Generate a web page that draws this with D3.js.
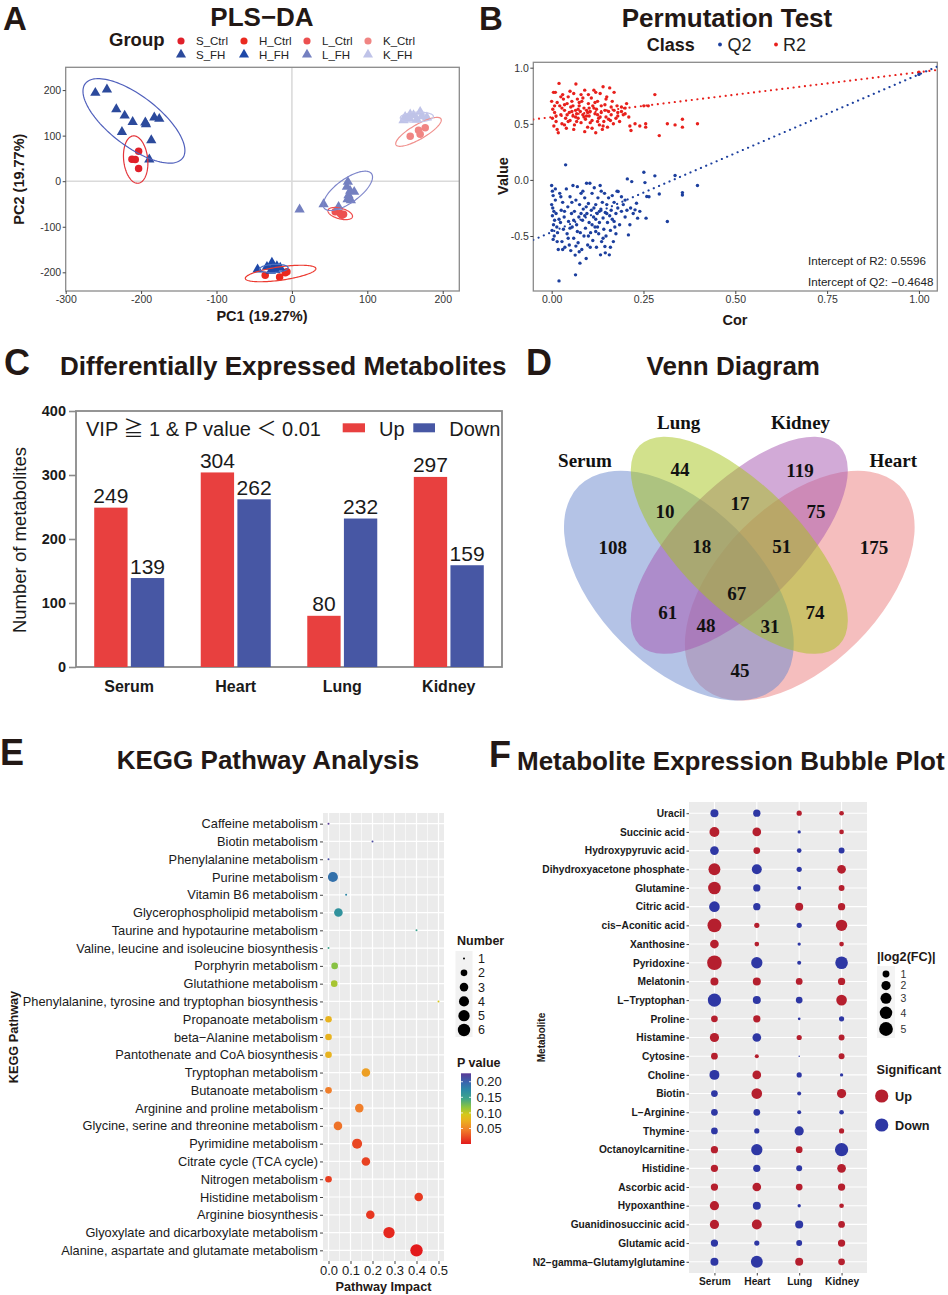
<!DOCTYPE html>
<html>
<head>
<meta charset="utf-8">
<script src="https://cdn.jsdelivr.net/npm/d3@7"></script>
<style>
  body { margin: 0; background: #fff; }
  svg { display: block; }
</style>
</head>
<body>
<svg width="948" height="1295"></svg>
<script>
// ---------- A: PLS-DA scores ----------
const plsXTicks = [-300, -200, -100, 0, 100, 200];
const plsYTicks = [-200, -100, 0, 100, 200];
const sCtrl = [[-203.3, 65.8], [-212.1, 48.3], [-207.7, 47.5], [-203.3, 27.8]];
const sFH = [[-260.7, 193.9], [-245.3, 201.2], [-232.9, 158], [-221.8, 144], [-211.2, 130], [-225.4, 108],
  [-194.4, 128.7], [-193.5, 125], [-182.5, 139.7], [-175.9, 136.8], [-186.5, 90], [-189.1, 47.5]];
const hCtrl = [[-35.4, -206.3], [-16.3, -210], [-8.8, -201], [-6.6, -199]];
const hFH = [[-45.5, -193.9], [-33.1, -188], [-26.5, -179], [-24.3, -188], [-19.9, -186.5], [-15.5, -190],
  [-27.8, -196.8], [-22, -195]];
const lCtrl = [[57.4, -67.3], [64.1, -71], [66.3, -74.6], [68.5, -72.4]];
const lFH = [[74.2, -1.5], [72.9, -12.4], [77.3, -21.2], [82.6, -23.4], [75.1, -30.7], [73.8, -39.5],
  [78.2, -41.7], [42, -50.5], [61.9, -56.3], [10.2, -62.2]];
const kCtrl = [[156.9, 98.8], [167.9, 112], [170.1, 103], [176.8, 117.2]];
const kFH = [[150.2, 141.2], [156, 137.5], [161.3, 144.8], [170.1, 152.2], [172.3, 142.6], [179, 139.7],
  [165.7, 135.3], [156.9, 146.3], [148, 133.9]];
// confidence ellipses: centre x, y, then two conjugate half axes (data units)
const sCtrlEll = [-207.2, 47.5, -2.5, 52, 16, 0];
const sFHEll = [-209.5, 132.4, 64.5, -81.9, 20.2, 43.5];
const hCtrlEll = [-15, -202.6, 46.8, 10.9, -1.2, 14.5];
const hFHEll = [-24, -191.5, 19, 1.5, 0, 9];
const lCtrlEll = [64.1, -71, 16.2, -7.2, -1.8, -11.3];
const lFHEll = [74.2, -21.2, 31.4, 37.7, 9.2, -21];
const kCtrlEll = [167.9, 108.3, 29.8, 28.5, 4.9, -13.9];
const kFHEll = [165.7, 140.5, 22, 1.5, 0, 11];

// ---------- B: permutation test ----------
const permXTicks = [0, 0.25, 0.5, 0.75, 1];
const permYTicks = [-0.5, 0, 0.5, 1];
const r2Intercept = 0.5596, r2Final = 0.96;
const q2Intercept = -0.4648, q2Final = 0.94;
const r2Points = [
  [0.000,0.70],[0.005,0.78],[0.010,0.78],[0.003,0.63],[0.008,0.60],[0.002,0.55],[0.012,0.52],[0.006,0.48],[0.015,0.45],[0.018,0.42],
  [0.020,0.86],[0.022,0.66],[0.025,0.58],[0.028,0.50],[0.030,0.76],[0.032,0.72],[0.035,0.62],[0.038,0.55],[0.040,0.46],[0.042,0.68],
  [0.045,0.74],[0.048,0.60],[0.050,0.53],[0.052,0.65],[0.055,0.70],[0.058,0.57],[0.060,0.77],[0.062,0.49],[0.065,0.62],[0.066,0.855],
  [0.068,0.59],[0.070,0.72],[0.072,0.55],[0.075,0.66],[0.078,0.61],[0.080,0.51],[0.082,0.70],[0.085,0.58],[0.088,0.64],[0.090,0.80],
  [0.092,0.54],[0.095,0.62],[0.098,0.47],[0.100,0.68],[0.102,0.57],[0.105,0.61],[0.108,0.73],[0.110,0.53],[0.112,0.66],[0.115,0.80],
  [0.118,0.59],[0.120,0.42],[0.122,0.63],[0.125,0.70],[0.128,0.55],[0.130,0.49],[0.132,0.77],[0.135,0.60],[0.138,0.45],[0.140,0.83],
  [0.142,0.52],[0.145,0.67],[0.148,0.56],[0.150,0.74],[0.152,0.47],[0.155,0.61],[0.158,0.82],[0.160,0.53],[0.162,0.58],[0.165,0.70],
  [0.168,0.50],[0.170,0.62],[0.175,0.55],[0.178,0.66],[0.180,0.60],[0.185,0.52],[0.190,0.61],[0.195,0.58],[0.200,0.64],[0.204,0.68],
  [0.210,0.56],[0.213,0.48],[0.216,0.44],[0.227,0.50],[0.240,0.48],[0.251,0.66],[0.256,0.50],[0.256,0.47],[0.263,0.66],[0.281,0.76],
  [0.293,0.395],[0.315,0.50],[0.336,0.49],[0.356,0.54],[0.356,0.47],[0.397,0.50],
  [0.015,0.69],[0.025,0.74],[0.035,0.67],[0.045,0.52],[0.055,0.61],[0.065,0.56],[0.075,0.69],[0.085,0.73],[0.095,0.57],[0.105,0.51],
  [0.115,0.64],[0.125,0.58],[0.135,0.66],[0.145,0.62],[0.155,0.54],[0.012,0.57],[0.028,0.64],[0.042,0.58],[0.058,0.66],[0.072,0.63],
  [0.088,0.56],[0.102,0.64],[0.118,0.69],[0.132,0.56],[0.148,0.72],[0.162,0.65],[0.060,0.45],[0.090,0.43],[0.110,0.46],[0.140,0.48],
  [0.050,0.79],[0.080,0.76],[0.100,0.76],[0.120,0.78],[0.170,0.78],[0.008,0.66],[0.035,0.49],[0.068,0.52],[0.098,0.60],[0.125,0.52],
  [0.180,0.57],[0.190,0.65],[0.200,0.59],[1.000,0.96]
];
const q2Points = [
  [0.000,-0.05],[0.002,-0.10],[0.004,-0.14],[0.000,-0.22],[0.003,-0.25],[0.006,-0.28],[0.002,-0.32],[0.008,-0.36],[0.005,-0.40],[0.001,-0.45],
  [0.007,-0.50],[0.004,-0.53],[0.010,-0.18],[0.012,-0.30],[0.014,-0.42],[0.016,-0.47],[0.018,-0.62],[0.020,-0.90],[0.022,-0.12],[0.024,-0.38],
  [0.026,-0.27],[0.028,-0.55],[0.030,-0.20],[0.032,-0.44],[0.034,-0.33],[0.036,-0.60],[0.038,0.134],[0.040,-0.08],[0.042,-0.48],[0.044,-0.24],
  [0.046,-0.37],[0.048,-0.58],[0.050,-0.15],[0.052,-0.63],[0.054,-0.30],[0.056,-0.42],[0.058,-0.05],[0.060,-0.52],[0.062,-0.28],[0.064,-0.67],
  [0.065,-0.846],[0.066,-0.18],[0.068,-0.40],[0.070,-0.06],[0.072,-0.56],[0.074,-0.33],[0.076,-0.22],[0.077,-0.742],[0.078,-0.47],[0.080,-0.12],
  [0.082,-0.62],[0.084,-0.36],[0.086,-0.26],[0.088,-0.50],[0.090,-0.16],[0.092,-0.43],[0.094,-0.70],[0.095,-0.03],[0.096,-0.30],[0.098,-0.58],
  [0.100,-0.21],[0.102,-0.38],[0.104,-0.03],[0.106,-0.47],[0.108,-0.27],[0.110,-0.12],[0.112,-0.54],[0.114,-0.33],[0.116,-0.07],[0.118,-0.42],
  [0.120,-0.22],[0.122,-0.60],[0.124,-0.30],[0.126,-0.16],[0.128,-0.48],[0.130,-0.38],[0.132,-0.05],[0.133,-0.668],[0.134,-0.26],[0.136,-0.55],
  [0.138,-0.20],[0.140,-0.34],[0.142,-0.44],[0.144,-0.12],[0.145,-0.593],[0.146,-0.29],[0.148,-0.50],[0.150,-0.22],[0.152,-0.38],[0.155,-0.16],
  [0.157,-0.668],[0.158,-0.32],[0.160,-0.45],[0.162,-0.27],[0.165,-0.35],[0.168,-0.55],[0.170,-0.20],[0.172,-0.42],[0.175,-0.30],[0.178,-0.10],
  [0.180,-0.25],[0.181,-0.104],[0.185,-0.40],[0.190,-0.28],[0.195,-0.22],[0.200,-0.33],[0.205,-0.27],[0.206,0.009],[0.209,-0.49],[0.213,-0.40],
  [0.215,-0.25],[0.218,-0.015],[0.222,-0.30],[0.227,-0.267],[0.231,-0.208],[0.234,-0.341],[0.240,-0.28],[0.251,0.068],[0.254,-0.024],[0.257,-0.341],
  [0.259,-0.148],[0.265,-0.15],[0.281,0.036],[0.293,-0.125],[0.315,-0.371],[0.336,0.039],[0.356,-0.113],[0.356,-0.134],[0.397,-0.05],
  [0.010,-0.08],[0.015,-0.55],[0.025,-0.15],[0.035,-0.28],[0.045,-0.52],[0.055,-0.20],[0.060,-0.36],[0.070,-0.46],[0.075,-0.64],[0.085,-0.10],
  [0.090,-0.32],[0.100,-0.50],[0.105,-0.60],[0.110,-0.40],[0.115,-0.25],[0.120,-0.35],[0.125,-0.42],[0.130,-0.28],[0.135,-0.10],[0.140,-0.52],
  [0.150,-0.30],[0.160,-0.60],[0.165,-0.14],[0.170,-0.37],[0.050,-0.43],[0.080,-0.30],[0.030,-0.62],[0.020,-0.35],[0.066,-0.59],[0.094,-0.24],
  [0.120,-0.46],[0.146,-0.65],[0.175,-0.48],[0.190,-0.15],[0.200,-0.18],[1.000,0.94]
];

// ---------- C: differential metabolites ----------
const tissues = ["Serum", "Heart", "Lung", "Kidney"];
const upCounts = [249, 304, 80, 297];
const downCounts = [139, 262, 232, 159];
const countTicks = [0, 100, 200, 300, 400];

// ---------- D: Venn ----------
const vennSets = ["Serum", "Lung", "Kidney", "Heart"];
const vennRegions = ["S", "L", "K", "H", "SL", "LK", "KH", "SLK", "LKH", "SLKH", "SK", "SKH", "SLH", "LH", "SH"];
const vennCounts = [108, 44, 119, 175, 10, 17, 75, 18, 51, 67, 61, 48, 31, 74, 45];

// ---------- E: KEGG ----------
const keggPathways = ["Caffeine metabolism", "Biotin metabolism", "Phenylalanine metabolism", "Purine metabolism",
  "Vitamin B6 metabolism", "Glycerophospholipid metabolism", "Taurine and hypotaurine metabolism",
  "Valine, leucine and isoleucine biosynthesis", "Porphyrin metabolism", "Glutathione metabolism",
  "Phenylalanine, tyrosine and tryptophan biosynthesis", "Propanoate metabolism", "beta\u2212Alanine metabolism",
  "Pantothenate and CoA biosynthesis", "Tryptophan metabolism", "Butanoate metabolism", "Arginine and proline metabolism",
  "Glycine, serine and threonine metabolism", "Pyrimidine metabolism", "Citrate cycle (TCA cycle)", "Nitrogen metabolism",
  "Histidine metabolism", "Arginine biosynthesis", "Glyoxylate and dicarboxylate metabolism",
  "Alanine, aspartate and glutamate metabolism"];
const keggImpact = [0, 0.2, 0, 0.02, 0.08, 0.045, 0.40, 0, 0.028, 0.026, 0.5, 0, 0, 0, 0.17, 0, 0.14, 0.043,
  0.13, 0.17, 0, 0.41, 0.19, 0.275, 0.40];
const keggP = [0.227, 0.215, 0.212, 0.19, 0.175, 0.165, 0.15, 0.148, 0.12, 0.11, 0.095, 0.078, 0.078, 0.078,
  0.065, 0.045, 0.045, 0.04, 0.02, 0.018, 0.017, 0.014, 0.013, 0.006, 0.0003];
const keggNumber = [1, 1, 1, 4, 1, 3, 1, 1, 2, 2, 1, 2, 2, 2, 3, 2, 3, 3, 4, 3, 2, 3, 3, 5, 6];
const impactTicks = [0, 0.1, 0.2, 0.3, 0.4, 0.5];
const pTicks = [0.05, 0.10, 0.15, 0.20];
const numberKeys = [1, 2, 3, 4, 5, 6];

// ---------- F: bubble plot (signed log2FC: + up, - down) ----------
const metabolites = ["Uracil", "Succinic acid", "Hydroxypyruvic acid", "Dihydroxyacetone phosphate", "Glutamine",
  "Citric acid", "cis\u2212Aconitic acid", "Xanthosine", "Pyridoxine", "Melatonin", "L\u2212Tryptophan", "Proline",
  "Histamine", "Cytosine", "Choline", "Biotin", "L\u2212Arginine", "Thymine", "Octanoylcarnitine", "Histidine",
  "Ascorbic acid", "Hypoxanthine", "Guanidinosuccinic acid", "Glutamic acid", "N2\u2212gamma\u2212Glutamylglutamine"];
const serumFC = [-1.44, 2.4, -1.75, 3.6, 4.1, -2.8, 5.1, 1.75, 5.7, 1.44, -4.6, 0.95, 2.0, 0.95, -2.4, -0.95,
  -0.95, -0.95, 1.15, 1.15, 1.15, 2.0, 2.0, -1.15, -1.44];
const heartFC = [-1.15, 1.75, 0.95, -2.4, -1.15, -1.15, 0.5, 0.38, -3.2, 1.44, -1.44, 1.15, -1.75, 0.26, 1.75, 2.8,
  -0.95, -0.5, -3.2, -1.15, 1.75, -1.44, 2.4, -0.5, -3.6];
const lungFC = [0.5, -0.16, -0.38, -0.5, -0.26, 1.44, -0.5, -0.16, -0.26, 0.95, -0.95, -0.1, 0.5, -0.05, -0.5, -0.26,
  -0.26, -2.0, 0.95, -0.7, 0.95, -0.16, -1.44, -0.7, 1.44];
const kidneyFC = [0.38, 0.38, -0.7, 1.75, 0.7, 1.15, 3.2, 0.38, -4.1, 1.15, 2.8, -0.5, 0.7, 0.7, -0.16, 2.0,
  -0.38, 0.5, -4.6, 1.75, 1.15, 0.38, 0.95, 1.15, 0.95];
const fcKeys = [1, 2, 3, 4, 5];

// ================= drawing =================
const svg = d3.select("svg");
const SANS = '"Liberation Sans", Arial, "Noto Sans CJK SC", sans-serif';
const SERIF = '"Liberation Serif", "Times New Roman", serif';
const INK = "#231815";

function put(g, x, y, s, size, o = {}) {
  const t = g.append("text")
    .attr("x", x).attr("y", y).text(s)
    .attr("font-family", o.family || SANS)
    .attr("font-size", size)
    .attr("font-weight", o.weight || "normal")
    .attr("text-anchor", o.anchor || "start")
    .attr("fill", o.fill || INK);
  if (o.rotate) t.attr("transform", `rotate(-90,${x},${y})`);
  if (o.dy) t.attr("dy", o.dy);
  return t;
}

function styleAxis(sel, size, weight = "normal", color = "#333") {
  sel.attr("font-family", SANS).attr("font-size", size).attr("font-weight", weight);
  sel.select(".domain").remove();
  sel.selectAll(".tick line").attr("stroke", "#444");
  sel.selectAll(".tick text").attr("fill", color);
}

// panel letters
[["A", 3, 30], ["B", 479, 30], ["C", 4, 375], ["D", 526, 375], ["E", 0, 765], ["F", 489, 767]]
  .forEach(([l, x, y]) => put(svg, x, y, l, l === "A" || l === "B" ? 33 : 36, { weight: "bold" }));

// ---------------- A ----------------
{
  const g = svg.append("g");
  const xA = d3.scaleLinear().domain([-300, 222]).range([65.7, 459.3]);
  const yA = d3.scaleLinear().domain([-241, 250]).range([291, 67.3]);
  const [x0, x1] = xA.range(), [y1, y0] = yA.range();

  put(g, 262, 26, "PLS\u2212DA", 26, { weight: "bold", anchor: "middle" });

  g.append("line").attr("x1", xA(0)).attr("x2", xA(0)).attr("y1", y0).attr("y2", y1)
    .attr("stroke", "#dadada").attr("stroke-width", 1.6);
  g.append("line").attr("x1", x0).attr("x2", x1).attr("y1", yA(0)).attr("y2", yA(0))
    .attr("stroke", "#dadada").attr("stroke-width", 1.6);
  g.append("rect").attr("x", x0).attr("y", y0).attr("width", x1 - x0).attr("height", y1 - y0)
    .attr("fill", "none").attr("stroke", "#8a8a8a").attr("stroke-width", 1.3);

  g.append("g").attr("transform", `translate(${x0},0)`)
    .call(d3.axisLeft(yA).tickValues(plsYTicks).tickFormat(d => d).tickSize(3).tickPadding(1.5))
    .call(styleAxis, 10.5);
  g.append("g").attr("transform", `translate(0,${y1})`)
    .call(d3.axisBottom(xA).tickValues(plsXTicks).tickFormat(d => d).tickSize(3).tickPadding(1.5))
    .call(styleAxis, 10.5);

  put(g, 262, 321, "PC1 (19.27%)", 14.5, { weight: "bold", anchor: "middle" });
  put(g, 24.5, (y0 + y1) / 2, "PC2 (19.77%)", 14.5, { weight: "bold", anchor: "middle", rotate: true });

  const circle = d3.symbolCircle, tri = d3.symbolTriangle;
  const series = [
    { name: "S_Ctrl", pts: sCtrl, ell: sCtrlEll, shape: circle, color: "#E0202A", ec: "#E4343A" },
    { name: "S_FH", pts: sFH, ell: sFHEll, shape: tri, color: "#2C4A9C", ec: "#5060BC" },
    { name: "H_Ctrl", pts: hCtrl, ell: hCtrlEll, shape: circle, color: "#EA2A20", ec: "#EC3A30" },
    { name: "H_FH", pts: hFH, ell: hFHEll, shape: tri, color: "#1E48A8", ec: "#4A6FC0" },
    { name: "L_Ctrl", pts: lCtrl, ell: lCtrlEll, shape: circle, color: "#EC5050", ec: "#EF4D4D" },
    { name: "L_FH", pts: lFH, ell: lFHEll, shape: tri, color: "#7480C0", ec: "#7D85CA" },
    { name: "K_Ctrl", pts: kCtrl, ell: kCtrlEll, shape: circle, color: "#F08583", ec: "#F0908D" },
    { name: "K_FH", pts: kFH, ell: kFHEll, shape: tri, color: "#BFC3E8", ec: "#C3C6EA" }
  ];
  const ts = d3.range(0, 2 * Math.PI, Math.PI / 60);
  const ellPath = ([cx, cy, ux, uy, vx, vy]) =>
    d3.line()
      .x(t => xA(cx + ux * Math.cos(t) + vx * Math.sin(t)))
      .y(t => yA(cy + uy * Math.cos(t) + vy * Math.sin(t)))(ts) + "Z";

  series.forEach(s => {
    g.selectAll(null).data(s.pts).enter().append("path")
      .attr("d", d3.symbol().type(s.shape).size(s.shape === circle ? 44 : 46))
      .attr("transform", d => `translate(${xA(d[0])},${yA(d[1])})`)
      .attr("fill", s.color);
  });
  series.forEach(s => {
    g.append("path").attr("d", ellPath(s.ell))
      .attr("fill", "none").attr("stroke", s.ec).attr("stroke-width", 1.2);
  });

  // legend
  put(g, 109, 45.5, "Group", 18.5, { weight: "bold" });
  const colX = [181, 244, 307, 368];
  series.forEach((s, i) => {
    const cx = colX[Math.floor(i / 2)], cy = i % 2 === 0 ? 41 : 54.5;
    g.append("path").attr("d", d3.symbol().type(s.shape).size(s.shape === circle ? 40 : 44))
      .attr("transform", `translate(${cx},${cy})`).attr("fill", s.color);
    put(g, cx + 15, cy + 4, s.name, 11.5, { fill: "#222" });
  });
}

// ---------------- B ----------------
{
  const g = svg.append("g");
  const xB = d3.scaleLinear().domain([-0.05, 1.05]).range([533.3, 937.3]);
  const yB = d3.scaleLinear().domain([-0.99, 1.048]).range([291, 62.3]);
  const [x0, x1] = xB.range(), [y1, y0] = yB.range();

  put(g, 727, 27, "Permutation Test", 26, { weight: "bold", anchor: "middle" });
  put(g, 646.7, 50.5, "Class", 18, { weight: "bold" });
  g.append("circle").attr("cx", 720).attr("cy", 44.5).attr("r", 1.9).attr("fill", "#1C3F9E");
  put(g, 727.5, 50.8, "Q2", 18, { fill: "#222" });
  g.append("circle").attr("cx", 776).attr("cy", 44.5).attr("r", 1.9).attr("fill", "#E8201C");
  put(g, 783, 50.8, "R2", 18, { fill: "#222" });

  g.append("rect").attr("x", x0).attr("y", y0).attr("width", x1 - x0).attr("height", y1 - y0)
    .attr("fill", "#fff").attr("stroke", "#8a8a8a").attr("stroke-width", 1.3);
  g.append("clipPath").attr("id", "clipB").append("rect")
    .attr("x", x0).attr("y", y0).attr("width", x1 - x0).attr("height", y1 - y0);

  g.append("g").attr("transform", `translate(${x0},0)`)
    .call(d3.axisLeft(yB).tickValues(permYTicks).tickFormat(d3.format(".1f")).tickSize(3).tickPadding(1.5))
    .call(styleAxis, 10.5);
  g.selectAll(".tick text").filter(d => d < 0).text(d => "-" + Math.abs(d).toFixed(1));
  g.append("g").attr("transform", `translate(0,${y1})`)
    .call(d3.axisBottom(xB).tickValues(permXTicks).tickFormat(d3.format(".2f")).tickSize(3).tickPadding(1.5))
    .call(styleAxis, 10.5);

  put(g, 735, 324.5, "Cor", 14.5, { weight: "bold", anchor: "middle" });
  put(g, 508, 176, "Value", 14.5, { weight: "bold", anchor: "middle", rotate: true });

  const lineB = d3.line().x(d => xB(d[0])).y(d => yB(d[1]));
  const [d0, d1] = xB.domain();
  const fit = (b, f) => [[d0, b + (f - b) * d0], [d1, b + (f - b) * d1]];
  const lines = g.append("g").attr("clip-path", "url(#clipB)");
  lines.append("path").attr("d", lineB(fit(r2Intercept, r2Final)))
    .attr("stroke", "#E8201C").attr("stroke-width", 2.1).attr("stroke-linecap", "round")
    .attr("stroke-dasharray", "0.1 5.6").attr("fill", "none");
  lines.append("path").attr("d", lineB(fit(q2Intercept, q2Final)))
    .attr("stroke", "#1C3F9E").attr("stroke-width", 2.1).attr("stroke-linecap", "round")
    .attr("stroke-dasharray", "0.1 5.6").attr("fill", "none");

  g.selectAll(null).data(r2Points).enter().append("circle")
    .attr("cx", d => xB(d[0])).attr("cy", d => yB(d[1])).attr("r", 1.7).attr("fill", "#E8201C");
  g.selectAll(null).data(q2Points).enter().append("circle")
    .attr("cx", d => xB(d[0])).attr("cy", d => yB(d[1])).attr("r", 1.7).attr("fill", "#1C3F9E");

  put(g, 808, 264.8, `Intercept of R2: ${r2Intercept.toFixed(4)}`, 11.6, { fill: "#222" });
  put(g, 808, 285.8, `Intercept of Q2: \u2212${Math.abs(q2Intercept).toFixed(4)}`, 11.6, { fill: "#222" });
}

// ---------------- C ----------------
{
  const g = svg.append("g");
  const yC = d3.scaleLinear().domain([0, 400]).range([667, 411]);
  const xC = d3.scaleBand().domain(tissues).range([76, 502]).paddingInner(0.343).paddingOuter(0.171);
  const xSub = d3.scaleBand().domain(["Up", "Down"]).range([0, xC.bandwidth()]).paddingInner(0.09);
  const red = "#E8403F", blue = "#4757A4";

  put(g, 60, 374.5, "Differentially Expressed Metabolites", 26, { weight: "bold" });

  g.append("rect").attr("x", 76).attr("y", 411).attr("width", 426).attr("height", 256)
    .attr("fill", "none").attr("stroke", "#8a8a8a").attr("stroke-width", 1.8);
  g.append("g").attr("transform", "translate(76,0)")
    .call(d3.axisLeft(yC).tickValues(countTicks).tickSize(7).tickPadding(3))
    .call(styleAxis, 14.5, "bold", "#1a1a1a");
  g.selectAll(".tick line").attr("stroke", "#8a8a8a").attr("stroke-width", 1.6);

  const series = [{ key: "Up", vals: upCounts, color: red }, { key: "Down", vals: downCounts, color: blue }];
  series.forEach(s => {
    g.selectAll(null).data(tissues).enter().append("rect")
      .attr("x", d => xC(d) + xSub(s.key))
      .attr("y", (d, i) => yC(s.vals[i]))
      .attr("width", xSub.bandwidth())
      .attr("height", (d, i) => yC(0) - yC(s.vals[i]))
      .attr("fill", s.color);
    g.selectAll(null).data(tissues).enter().append("text")
      .attr("x", d => xC(d) + xSub(s.key) + xSub.bandwidth() / 2)
      .attr("y", (d, i) => yC(s.vals[i]) - 4.5)
      .attr("text-anchor", "middle").attr("font-family", SANS).attr("font-size", 21)
      .attr("fill", "#1a1a1a")
      .text((d, i) => s.vals[i]);
  });
  g.selectAll(null).data(tissues).enter().append("text")
    .attr("x", d => xC(d) + xC.bandwidth() / 2).attr("y", 692)
    .attr("text-anchor", "middle").attr("font-family", SANS).attr("font-size", 16)
    .attr("font-weight", "bold").attr("fill", "#1a1a1a").text(d => d);

  put(g, 26, 540, "Number of metabolites", 18.5, { anchor: "middle", rotate: true, fill: "#1a1a1a" });

  // legend
  put(g, 86, 436, "VIP \u2267 1 & P value \uFF1C 0.01", 20, { fill: "#1a1a1a" });
  g.append("rect").attr("x", 342.7).attr("y", 423.3).attr("width", 22.3).attr("height", 9).attr("fill", red);
  put(g, 379, 436, "Up", 20, { fill: "#1a1a1a" });
  g.append("rect").attr("x", 413.3).attr("y", 423.3).attr("width", 21.7).attr("height", 9).attr("fill", blue);
  put(g, 449.3, 436, "Down", 20, { fill: "#1a1a1a" });
}

// ---------------- D ----------------
{
  const g = svg.append("g");
  const cx = 739.3, cy = 545.3, S = 403;
  put(g, 733.3, 375, "Venn Diagram", 26, { weight: "bold", anchor: "middle" });

  // one ellipse per set (same order as vennSets); painted Heart, Serum, Kidney, Lung
  const shapes = [
    { dx: -0.15, dy: 0.10, b: 0.20, rot: 45, color: "#6987CD", z: 1 },
    { dx: 0, dy: 0, b: 0.15, rot: 45, color: "#A5C319", z: 3 },
    { dx: 0, dy: 0, b: 0.15, rot: -45, color: "#A555AF", z: 2 },
    { dx: 0.15, dy: 0.10, b: 0.20, rot: -45, color: "#EB7D7D", z: 0 }
  ];
  g.selectAll(null).data(shapes.slice().sort((a, b) => a.z - b.z)).enter().append("ellipse")
    .attr("cx", 0).attr("cy", 0).attr("rx", 0.35 * S).attr("ry", d => d.b * S)
    .attr("transform", d => `translate(${cx + d.dx * S},${cy + d.dy * S}) rotate(${d.rot})`)
    .attr("fill", d => d.color).attr("fill-opacity", 0.5);

  // set labels and region labels (layout offsets from the diagram centre, px)
  const setPos = [[-154.3, -84.5], [-60.6, -123], [61.2, -123], [154, -84.5]];
  vennSets.forEach((s, i) => put(g, cx + setPos[i][0], cy + setPos[i][1], s, 19,
    { family: SERIF, weight: "bold", anchor: "middle", dy: "0.35em", fill: "#111" }));
  const regionPos = {
    S: [-126.6, 2], L: [-59.3, -76], K: [60.7, -75.3], H: [134.7, 2], SL: [-74.3, -33.6], LK: [0.7, -42],
    KH: [76.7, -33.6], SLK: [-37.6, 1.4], LKH: [42.4, 1.4], SLKH: [-2.6, 48], SK: [-71.6, 67.4],
    SKH: [-33.3, 79.7], SLH: [30.7, 81.4], LH: [75.7, 67.4], SH: [0.7, 124.7]
  };
  vennRegions.forEach((r, i) => put(g, cx + regionPos[r][0], cy + regionPos[r][1], vennCounts[i], 19,
    { family: SERIF, weight: "bold", anchor: "middle", dy: "0.35em", fill: "#111" }));
}

// ---------------- E ----------------
{
  const g = svg.append("g");
  const xE = d3.scaleLinear().domain([-0.025, 0.525]).range([323, 444]);
  const yE = d3.scalePoint().domain(keggPathways).range([813, 1261]).padding(0.6);
  const [x0, x1] = xE.range(), [y0, y1] = yE.range();

  put(g, 268, 769, "KEGG Pathway Analysis", 26, { weight: "bold", anchor: "middle" });

  g.append("rect").attr("x", x0).attr("y", y0).attr("width", x1 - x0).attr("height", y1 - y0).attr("fill", "#EBEBEB");
  const minor = [0.05, 0.15, 0.25, 0.35, 0.45];
  g.selectAll(null).data(minor).enter().append("line")
    .attr("x1", d => xE(d)).attr("x2", d => xE(d)).attr("y1", y0).attr("y2", y1)
    .attr("stroke", "#fff").attr("stroke-width", 0.6);
  g.selectAll(null).data(impactTicks).enter().append("line")
    .attr("x1", d => xE(d)).attr("x2", d => xE(d)).attr("y1", y0).attr("y2", y1)
    .attr("stroke", "#fff").attr("stroke-width", 1.2);
  g.selectAll(null).data(keggPathways).enter().append("line")
    .attr("x1", x0).attr("x2", x1).attr("y1", d => yE(d)).attr("y2", d => yE(d))
    .attr("stroke", "#fff").attr("stroke-width", 1.2);

  g.append("g").attr("transform", `translate(${x0},0)`)
    .call(d3.axisLeft(yE).tickSize(3).tickPadding(2)).call(styleAxis, 12.8, "normal", "#1a1a1a");
  g.append("g").attr("transform", `translate(0,${y1})`)
    .call(d3.axisBottom(xE).tickValues(impactTicks).tickFormat(d3.format(".1f")).tickSize(3).tickPadding(1.5))
    .call(styleAxis, 13, "normal", "#1a1a1a");

  put(g, 383.5, 1290.5, "Pathway Impact", 12.7, { weight: "bold", anchor: "middle" });
  put(g, 18, (y0 + y1) / 2, "KEGG Pathway", 12.7, { weight: "bold", anchor: "middle", rotate: true });

  const [pLo, pHi] = d3.extent(keggP);
  const stopT = [0, 0.2, 0.33, 0.42, 0.52, 0.64, 0.76, 0.87, 1];
  const stopC = ["#E31A1C", "#F07F2A", "#EBB020", "#D6C81A", "#8DC43F", "#3FA58A", "#2C8BA5", "#3866AE", "#5A3A96"];
  const colorE = d3.scaleLinear().domain(stopT.map(t => pLo + t * (pHi - pLo))).range(stopC);
  const rE = d3.scaleSqrt().domain([0, 5]).range([1, 6.2]);

  const idx = d3.range(keggPathways.length);
  g.selectAll(null).data(idx).enter().append("circle")
    .attr("cx", i => xE(keggImpact[i])).attr("cy", i => yE(keggPathways[i]))
    .attr("r", i => rE(keggNumber[i] - 1)).attr("fill", i => colorE(keggP[i]));

  // legend: Number
  put(g, 457, 944.5, "Number", 12.5, { weight: "bold" });
  const yKey = d3.scalePoint().domain(numberKeys).range([958.5, 1030]);
  g.append("rect").attr("x", 455.5).attr("y", 951).attr("width", 17).attr("height", 86).attr("fill", "#F2F2F2");
  g.selectAll(null).data(numberKeys).enter().append("circle")
    .attr("cx", 464).attr("cy", d => yKey(d)).attr("r", d => rE(d - 1)).attr("fill", "#000");
  g.selectAll(null).data(numberKeys).enter().append("text")
    .attr("x", 478).attr("y", d => yKey(d) + 4.4).attr("font-family", SANS).attr("font-size", 12.5)
    .attr("fill", "#1a1a1a").text(d => d);

  // legend: P value colour bar
  put(g, 457, 1066.5, "P value", 12.5, { weight: "bold" });
  const yBar = d3.scaleLinear().domain([pLo, pHi]).range([1144, 1073.3]);
  const grad = g.append("defs").append("linearGradient").attr("id", "pgrad")
    .attr("x1", 0).attr("y1", 1).attr("x2", 0).attr("y2", 0);
  grad.selectAll("stop").data(stopT).enter().append("stop")
    .attr("offset", t => t).attr("stop-color", (t, i) => stopC[i]);
  g.append("rect").attr("x", 461).attr("y", yBar(pHi)).attr("width", 10).attr("height", yBar(pLo) - yBar(pHi))
    .attr("fill", "url(#pgrad)");
  pTicks.forEach(p => {
    g.append("line").attr("x1", 461).attr("x2", 463).attr("y1", yBar(p)).attr("y2", yBar(p)).attr("stroke", "#fff").attr("stroke-width", 0.8);
    g.append("line").attr("x1", 469).attr("x2", 471).attr("y1", yBar(p)).attr("y2", yBar(p)).attr("stroke", "#fff").attr("stroke-width", 0.8);
  });
  g.selectAll(null).data(pTicks).enter().append("text")
    .attr("x", 476.5).attr("y", d => yBar(d) + 4.6).attr("font-family", SANS).attr("font-size", 13)
    .attr("fill", "#1a1a1a").text(d => d.toFixed(2));
}

// ---------------- F ----------------
{
  const g = svg.append("g");
  const xF = d3.scalePoint().domain(tissues).range([689, 867]).padding(0.6);
  const yF = d3.scalePoint().domain(metabolites).range([802, 1273]).padding(0.6);
  const [x0, x1] = xF.range(), [y0, y1] = yF.range();
  const up = "#B51F2E", down = "#2E37A4";

  put(g, 517, 770, "Metabolite Expression Bubble Plot", 26, { weight: "bold" });

  g.append("rect").attr("x", x0).attr("y", y0).attr("width", x1 - x0).attr("height", y1 - y0).attr("fill", "#EBEBEB");
  g.selectAll(null).data(metabolites).enter().append("line")
    .attr("x1", x0).attr("x2", x1).attr("y1", d => yF(d)).attr("y2", d => yF(d))
    .attr("stroke", "#fff").attr("stroke-width", 1.1);
  g.selectAll(null).data(tissues).enter().append("line")
    .attr("x1", d => xF(d)).attr("x2", d => xF(d)).attr("y1", y0).attr("y2", y1)
    .attr("stroke", "#fff").attr("stroke-width", 1.1);

  g.append("g").attr("transform", `translate(${x0},0)`)
    .call(d3.axisLeft(yF).tickSize(2.5).tickPadding(1.5)).call(styleAxis, 10.2, "bold", "#1a1a1a");
  g.append("g").attr("transform", `translate(0,${y1})`)
    .call(d3.axisBottom(xF).tickSize(2.5).tickPadding(2)).call(styleAxis, 10.2, "bold", "#1a1a1a");
  put(g, 545, (y0 + y1) / 2, "Metabolite", 10, { weight: "bold", anchor: "middle", rotate: true });

  const fcCols = [serumFC, heartFC, lungFC, kidneyFC];
  const abs = fcCols.flat().map(Math.abs);
  const [fcLo, fcHi] = d3.extent(abs);
  const rF = d3.scaleSqrt().domain([0, fcHi - fcLo]).range([0.75, 7.3]);
  const cells = [];
  fcCols.forEach((col, j) => col.forEach((v, i) => cells.push({ t: tissues[j], m: metabolites[i], v })));
  g.selectAll(null).data(cells).enter().append("circle")
    .attr("cx", d => xF(d.t)).attr("cy", d => yF(d.m))
    .attr("r", d => rF(Math.abs(d.v) - fcLo)).attr("fill", d => d.v > 0 ? up : down);

  // legend: |log2(FC)|
  put(g, 877, 961, "|log2(FC)|", 12.7, { weight: "bold" });
  const yKey = d3.scaleLinear().domain([1, 2, 3, 4, 5]).range([974, 985.6, 998.3, 1012.8, 1029]);
  g.append("rect").attr("x", 877).attr("y", 966).attr("width", 18).attr("height", 72).attr("fill", "#F4F4F4");
  g.selectAll(null).data(fcKeys).enter().append("circle")
    .attr("cx", 886).attr("cy", d => yKey(d)).attr("r", d => rF(d - fcLo)).attr("fill", "#000");
  g.selectAll(null).data(fcKeys).enter().append("text")
    .attr("x", 900.5).attr("y", d => yKey(d) + 3.7).attr("font-family", SANS).attr("font-size", 10.5)
    .attr("fill", "#333").text(d => d);

  // legend: Significant
  put(g, 876.5, 1074, "Significant", 12.7, { weight: "bold" });
  [["Up", up, 1096], ["Down", down, 1125]].forEach(([k, c, y]) => {
    g.append("circle").attr("cx", 881.7).attr("cy", y).attr("r", 6.6).attr("fill", c);
    put(g, 895, y + 4.6, k, 12.7, { weight: "bold", fill: "#1a1a1a" });
  });
}
</script>
</body>
</html>
